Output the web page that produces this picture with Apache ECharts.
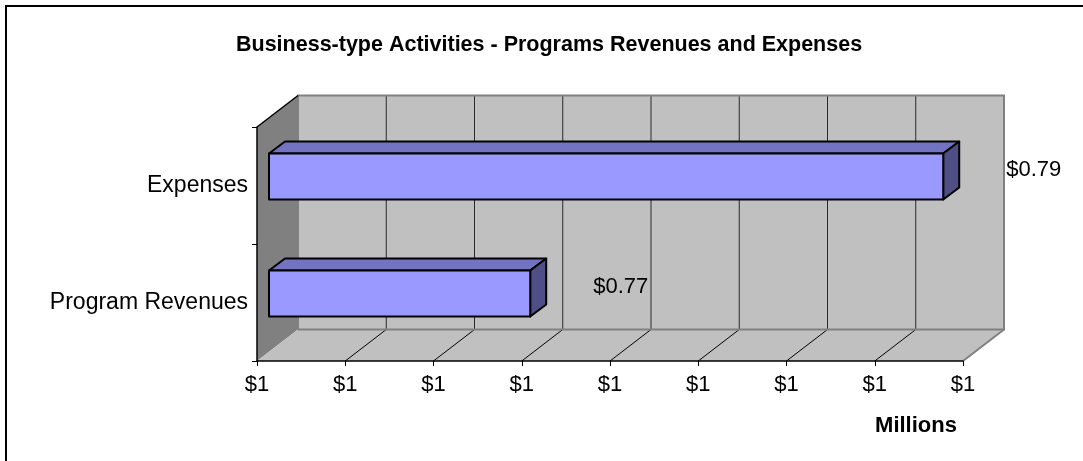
<!DOCTYPE html>
<html>
<head>
<meta charset="utf-8">
<script src="https://cdn.jsdelivr.net/npm/echarts@6/dist/echarts.min.js"></script>
<style>
  html, body { margin: 0; padding: 0; background: #fff; }
  #chart { width: 1083px; height: 461px; }
</style>
</head>
<body>
<div id="chart"></div>
<script>
// categories from bottom to top, values in millions
const categories = ['Program Revenues', 'Expenses'];
const values = [0.7749, 0.7866];
const axisMin = 0.7675;
const axisMax = 0.7875;
const axisStep = 0.0025;

const fontFamily = 'Liberation Sans, Arial, sans-serif';
// 3d look: back wall offset and bar plane offsets
const depth = [41, -31.5];
const barPlane = [12, -9];
const barDepth = [16, -12];

let myChart = echarts.init(document.getElementById('chart'));

function renderWalls(params, api) {
    let cs = params.coordSys;
    let left = cs.x, top = cs.y, right = cs.x + cs.width, bottom = cs.y + cs.height;
    let dx = depth[0], dy = depth[1];
    let children = [];
    // left wall
    children.push({
        type: 'polygon',
        shape: { points: [[left, top], [left + dx, top + dy], [left + dx, bottom + dy], [left, bottom]] },
        style: { fill: '#808080', stroke: null }
    });
    // floor
    children.push({
        type: 'polygon',
        shape: { points: [[left, bottom], [right, bottom], [right + dx, bottom + dy], [left + dx, bottom + dy]] },
        style: { fill: '#c0c0c0', stroke: null }
    });
    // back wall
    children.push({
        type: 'rect',
        shape: { x: left + dx, y: top + dy, width: cs.width, height: cs.height },
        style: { fill: '#c0c0c0', stroke: null }
    });
    let n = Math.round((axisMax - axisMin) / axisStep);
    for (let k = 1; k < n; k++) {
        let x = api.coord([axisMin + k * axisStep, 0])[0];
        children.push({
            type: 'line',
            shape: { x1: x + dx, y1: top + dy, x2: x + dx, y2: bottom + dy },
            style: { stroke: '#2a2a2a', lineWidth: 1 }
        });
        children.push({
            type: 'line',
            shape: { x1: x, y1: bottom, x2: x + dx, y2: bottom + dy },
            style: { stroke: '#000', lineWidth: 1 }
        });
    }
    // wall borders
    children.push({
        type: 'polyline',
        shape: { points: [[left + dx, bottom + dy], [left + dx, top + dy], [right + dx, top + dy], [right + dx, bottom + dy], [left + dx, bottom + dy]] },
        style: { stroke: '#808080', lineWidth: 2, fill: null }
    });
    children.push({
        type: 'line',
        shape: { x1: right, y1: bottom, x2: right + dx, y2: bottom + dy },
        style: { stroke: '#808080', lineWidth: 2 }
    });
    children.push({
        type: 'line',
        shape: { x1: left, y1: top, x2: left + dx, y2: top + dy },
        style: { stroke: '#000', lineWidth: 1.5 }
    });
    return { type: 'group', children: children };
}

function renderBar(params, api) {
    let cat = api.value(1);
    let start = api.coord([axisMin, cat]);
    let end = api.coord([api.value(0), cat]);
    let band = api.size([0, 1])[1];
    let h = band * 0.393;
    let x0 = start[0] + barPlane[0];
    let x1 = end[0] + barPlane[0];
    let y0 = end[1] + barPlane[1] - h / 2;
    let y1 = y0 + h;
    let bx = barDepth[0], by = barDepth[1];
    let line = { stroke: '#000', lineWidth: 2, lineJoin: 'round' };
    return {
        type: 'group',
        children: [
            {
                type: 'polygon',
                shape: { points: [[x0, y0], [x1, y0], [x1 + bx, y0 + by], [x0 + bx, y0 + by]] },
                style: Object.assign({ fill: '#7373c4' }, line)
            },
            {
                type: 'polygon',
                shape: { points: [[x1, y0], [x1 + bx, y0 + by], [x1 + bx, y1 + by], [x1, y1]] },
                style: Object.assign({ fill: '#4f4f85' }, line)
            },
            {
                type: 'rect',
                shape: { x: x0, y: y0, width: x1 - x0, height: h },
                style: Object.assign({ fill: '#9999ff' }, line)
            },
            {
                type: 'text',
                x: x1 + 63,
                y: (y0 + y1) / 2 - 7,
                style: {
                    text: '$' + api.value(0).toFixed(2),
                    fill: '#000',
                    font: '22px ' + fontFamily,
                    align: 'left',
                    verticalAlign: 'middle'
                }
            }
        ]
    };
}

myChart.setOption({
    backgroundColor: '#fff',
    animation: false,
    title: {
        text: 'Business-type Activities - Programs Revenues and Expenses',
        left: 231,
        top: 29,
        textStyle: {
            fontFamily: fontFamily,
            fontSize: 21.5,
            fontWeight: 'bold',
            color: '#000'
        }
    },
    grid: {
        left: 257,
        top: 127,
        width: 706,
        height: 234
    },
    xAxis: {
        type: 'value',
        min: axisMin,
        max: axisMax,
        interval: axisStep,
        axisLine: { show: true, lineStyle: { color: '#000', width: 1.5 } },
        axisTick: { show: true, length: 5, lineStyle: { color: '#000' } },
        splitLine: { show: false },
        axisLabel: {
            color: '#000',
            fontFamily: fontFamily,
            fontSize: 22,
            margin: 13,
            formatter: function (v) { return '$' + Math.round(v); }
        }
    },
    yAxis: {
        type: 'category',
        data: categories,
        axisLine: { show: true, lineStyle: { color: '#000', width: 1.5 } },
        axisTick: { show: true, length: 5, lineStyle: { color: '#000' } },
        splitLine: { show: false },
        axisLabel: {
            color: '#000',
            fontFamily: fontFamily,
            fontSize: 23,
            margin: 9
        }
    },
    graphic: [
        {
            type: 'rect',
            shape: { x: 6, y: 6, width: 1200, height: 600 },
            style: { fill: null, stroke: '#000', lineWidth: 2 },
            silent: true
        },
        {
            type: 'text',
            x: 916,
            y: 426,
            style: {
                text: 'Millions',
                font: 'bold 22px ' + fontFamily,
                fill: '#000',
                align: 'center',
                verticalAlign: 'middle'
            }
        }
    ],
    series: [
        {
            type: 'custom',
            name: 'walls',
            silent: true,
            z: 0,
            clip: false,
            renderItem: renderWalls,
            data: [[axisMin, 0]]
        },
        {
            type: 'custom',
            name: 'bars',
            z: 3,
            clip: false,
            renderItem: renderBar,
            encode: { x: 0, y: 1 },
            data: values.map(function (v, i) { return [v, i]; })
        }
    ]
});
</script>
</body>
</html>
